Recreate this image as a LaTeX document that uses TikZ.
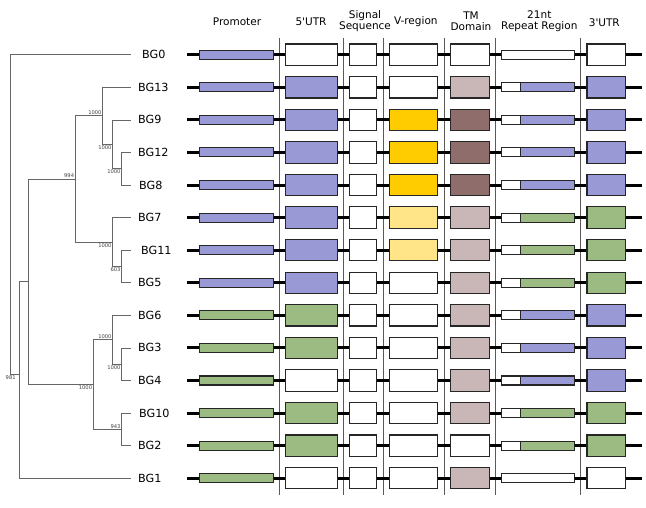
\documentclass[tikz,border=0pt]{standalone}
\usepackage{fontspec}
\setmainfont{DejaVu Sans}
\definecolor{bgblue}{HTML}{9999D6}
\definecolor{bggreen}{HTML}{9BBB83}
\definecolor{bggold}{HTML}{FFCC00}
\definecolor{bgpale}{HTML}{FFE588}
\definecolor{tmpale}{HTML}{C8B7B6}
\definecolor{tmdark}{HTML}{8F6D6A}
\tikzset{
  seg/.style={draw=black!85, line width=1.1pt, inner sep=0pt, minimum height=21.4pt},
  flat/.style={seg, minimum height=9pt},
  rep/.style={flat, minimum width=73.2pt, fill=white,
    path picture={\fill[#1] ([xshift=19.5pt]path picture bounding box.south west) rectangle (path picture bounding box.north east);
      \draw[black!85, line width=1.1pt] ([xshift=19.5pt]path picture bounding box.south west) -- ([xshift=19.5pt]path picture bounding box.north west);}},
  backbone/.style={line width=3pt, black},
  branch/.style={draw=black!60, line width=0.7pt},
  taxon/.style={anchor=west, inner sep=0pt, font=\fontsize{11.2}{13}\selectfont},
  boot/.style={inner sep=1pt, font=\fontsize{5.2}{6}\selectfont, text=black!75},
  hdr/.style={align=center, inner sep=0pt, font=\fontsize{10.5}{11.4}\selectfont},
  divider/.style={draw=black!65, line width=0.9pt}}
\def\plainrep{white}

\begin{document}
\begin{tikzpicture}[x=1pt, y=-1pt]
  \useasboundingbox (0,0) rectangle (646,508);

  % column headers
  \node[hdr] (hprom) at (237,22) {Promoter};
  \node[hdr] (hutr5) at (311,22) {5\textquotesingle UTR};
  \node[hdr] (hsig) at (365,21) {Signal\\Sequence};
  \node[hdr] (hvreg) at (415.8,21.3) {V-region};
  \node[hdr] (htm) at (471,21.5) {TM\\Domain};
  \node[hdr] (hrep) at (539.3,21) {21nt\\Repeat Region};
  \node[hdr] (hutr3) at (604.3,22.3) {3\textquotesingle UTR};

  \foreach \sx in {279.3,343.5,383.3,444.3,495.5,580.8}
    \draw[divider] (\sx,38.3) -- (\sx,494.5);

  % gene rows
  \foreach \nm/\dx/\pr/\ua/\vr/\tm/\rp/\ub [count=\i from 0] in {
      BG0/4/bgblue/white/white/white/white/white,
      BG13/0/bgblue/bgblue/white/tmpale/bgblue/bgblue,
      BG9/0/bgblue/bgblue/bggold/tmdark/bgblue/bgblue,
      BG12/0/bgblue/bgblue/bggold/tmdark/bgblue/bgblue,
      BG8/1/bgblue/bgblue/bggold/tmdark/bgblue/bgblue,
      BG7/0/bgblue/bgblue/bgpale/tmpale/bggreen/bggreen,
      BG11/3/bgblue/bgblue/bgpale/tmpale/bggreen/bggreen,
      BG5/0/bgblue/bgblue/white/tmpale/bggreen/bggreen,
      BG6/0/bggreen/bggreen/white/tmpale/bgblue/bgblue,
      BG3/0/bggreen/bggreen/white/tmpale/bgblue/bgblue,
      BG4/0/bggreen/white/white/tmpale/bgblue/bgblue,
      BG10/1/bggreen/bggreen/white/tmpale/bggreen/bggreen,
      BG2/0/bggreen/bggreen/white/white/bggreen/bggreen,
      BG1/0/bggreen/white/white/tmpale/white/white} {
    \pgfmathsetmacro\y{54.7+32.58*\i}
    \coordinate (t\nm) at (131,\y);
    \node[taxon] (\nm) at (138+\dx,\y) {\nm};
    \coordinate (s\nm) at (187.3,\y);
    \coordinate (e\nm) at (641.5,\y);
    \draw[backbone] (s\nm) -- (e\nm);
    \node[flat, fill=\pr, minimum width=73.6pt] (p\nm) at (236.65,\y) {};
    \node[seg, fill=\ua, minimum width=51.6pt] (u\nm) at (311.3,\y) {};
    \node[seg, fill=white, minimum width=27.5pt] (sg\nm) at (363,\y) {};
    \node[seg, fill=\vr, minimum width=48.7pt] (v\nm) at (413.4,\y) {};
    \node[seg, fill=\tm, minimum width=38.9pt] (tm\nm) at (469.6,\y) {};
    \ifx\rp\plainrep
      \node[flat, fill=white, minimum width=73.2pt] (r\nm) at (537.85,\y) {};
    \else
      \node[rep=\rp] (r\nm) at (537.85,\y) {};
    \fi
    \node[seg, fill=\ub, minimum width=38.4pt] (d\nm) at (606.2,\y) {};
  }

  % tree
  \coordinate (n13) at (10.7,214);
  \coordinate (n12) at (19.3,374);
  \coordinate (n11) at (28.3,281.8);
  \coordinate (n10) at (75.3,178.9);
  \coordinate (n9) at (102.7,115.8);
  \coordinate (n8) at (112.7,144.3);
  \coordinate (n7) at (121.7,168.7);
  \coordinate (n6) at (112.7,242);
  \coordinate (n5) at (121.7,266.5);
  \coordinate (n4) at (93.3,384.6);
  \coordinate (n3) at (112.7,339.8);
  \coordinate (n2) at (121.7,364.2);
  \coordinate (n1) at (121.7,429.4);

  \draw[branch] (n13) |- (tBG0) (n13) |- (n12)
    (n12) |- (n11) (n12) |- (tBG1)
    (n11) |- (n10) (n11) |- (n4)
    (n10) |- (n9) (n10) |- (n6)
    (n9) |- (tBG13) (n9) |- (n8)
    (n8) |- (tBG9) (n8) |- (n7)
    (n7) |- (tBG12) (n7) |- (tBG8)
    (n6) |- (tBG7) (n6) |- (n5)
    (n5) |- (tBG11) (n5) |- (tBG5)
    (n4) |- (n3) (n4) |- (n1)
    (n3) |- (tBG6) (n3) |- (n2)
    (n2) |- (tBG3) (n2) |- (tBG4)
    (n1) |- (tBG10) (n1) |- (tBG2);

  \node[boot, anchor=north] (b12) at (n13 |- n12) {981};
  \node[boot, anchor=south east] (b10) at (n10) {994};
  \node[boot, anchor=south east] (b9) at (n9) {1000};
  \node[boot, anchor=north east] (b8) at (n8) {1000};
  \node[boot, anchor=north east] (b7) at (n7) {1000};
  \node[boot, anchor=north east] (b6) at (n6) {1000};
  \node[boot, anchor=north east] (b5) at (n5) {603};
  \node[boot, anchor=north east] (b4) at (n4) {1000};
  \node[boot, anchor=south east] (b3) at (n3) {1000};
  \node[boot, anchor=north east] (b2) at (n2) {1000};
  \node[boot, anchor=south east] (b1) at (n1) {943};
\end{tikzpicture}
\end{document}
